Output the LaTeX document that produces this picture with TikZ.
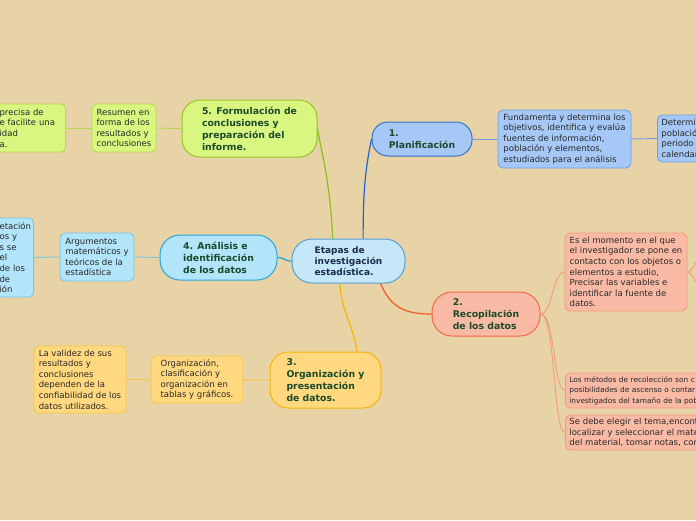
\documentclass[tikz,border=0pt]{standalone}
\usepackage{fontspec}
\setmainfont{DejaVu Sans}
\definecolor{fondo}{RGB}{232,211,166}
\definecolor{etapaF}{RGB}{198,231,248}
\definecolor{etapaB}{RGB}{86,158,214}
\definecolor{planF}{RGB}{166,200,246}
\definecolor{planB}{RGB}{60,110,205}
\definecolor{planL}{RGB}{112,156,226}
\definecolor{salmF}{RGB}{249,186,165}
\definecolor{salmB}{RGB}{240,105,70}
\definecolor{salmL}{RGB}{242,154,122}
\definecolor{amarF}{RGB}{255,216,128}
\definecolor{amarB}{RGB}{245,182,10}
\definecolor{amarL}{RGB}{245,198,74}
\definecolor{celF}{RGB}{178,228,250}
\definecolor{celB}{RGB}{40,165,222}
\definecolor{celL}{RGB}{120,196,226}
\definecolor{verdeF}{RGB}{216,246,128}
\definecolor{verdeB}{RGB}{150,196,40}
\definecolor{verdeL}{RGB}{184,214,78}
\definecolor{ramaAzul}{RGB}{31,99,214}
\definecolor{ramaRoja}{RGB}{240,90,40}
\definecolor{ramaAmar}{RGB}{247,183,0}
\definecolor{ramaCel}{RGB}{30,160,220}
\definecolor{ramaVerde}{RGB}{141,190,30}
\definecolor{titulo}{RGB}{26,74,42}
\definecolor{central}{RGB}{26,42,76}
\definecolor{cuerpo}{RGB}{40,40,40}

\begin{document}
\begin{tikzpicture}[x=1pt, y=-1pt,
  topic/.style={draw, line width=1pt, rounded corners=18pt, align=left, inner xsep=6pt, inner ysep=3pt, font=\fontsize{9.3}{12}\selectfont\bfseries, text=titulo},
  leaf/.style={draw, line width=0.8pt, rounded corners=5pt, align=left, inner xsep=4pt, inner ysep=3pt, font=\fontsize{8.5}{10.6}\selectfont, text=cuerpo},
  link/.style={line width=1.2pt},
  twig/.style={line width=0.9pt}]
  \useasboundingbox (0,0) rectangle (696,520);
  \clip (0,0) rectangle (696,520);
  \fill[fondo] (0,0) rectangle (696,520);

  \node[topic, fill=etapaF, draw=etapaB, text=central, font=\fontsize{9}{11}\selectfont\bfseries, minimum width=113pt, minimum height=44pt, rounded corners=20pt] (etapas) at (348.5,261) {Etapas de\\investigación\\estadística.};
  \node[topic, fill=planF, draw=planB, minimum width=100pt, minimum height=34pt, rounded corners=16pt] (plan) at (422,139) {1.\\Planificación};
  \node[topic, fill=salmF, draw=salmB, minimum width=108pt, minimum height=44pt, rounded corners=20pt] (recop) at (486,314) {2.\\Recopilación\\de los datos};
  \node[topic, fill=amarF, draw=amarB, minimum width=111pt, minimum height=56pt] (organ) at (325.5,380) {3.\\Organización y\\presentación\\de datos.};
  \node[topic, fill=celF, draw=celB, minimum width=117pt, minimum height=45pt, rounded corners=20pt] (anal) at (218.5,257.5) {4. Análisis e\\identificación\\de los datos};
  \node[topic, fill=verdeF, draw=verdeB, minimum width=135pt, minimum height=57pt] (formul) at (249.5,128.5) {5. Formulación de\\conclusiones y\\preparación del\\informe.};

  \node[leaf, fill=planF, draw=planL, minimum width=133pt, minimum height=58pt] (fund) at (564.5,139) {Fundamenta y determina los\\objetivos, identifica y evalúa\\fuentes de información,\\población y elementos,\\estudiados para el análisis};
  \node[leaf, anchor=west, fill=planF, draw=planL, text width=120pt, minimum height=47pt] (determ) at (657,138.5) {Determi\\població\\periodo\\calendar};
  \node[leaf, fill=salmF, draw=salmL, minimum width=122pt, minimum height=78pt] (momento) at (626,272) {Es el momento en el que\\el investigador se pone en\\contacto con los objetos o\\elementos a estudio,\\Precisar las variables e\\identificar la fuente de\\datos.};
  \node[leaf, anchor=west, fill=salmF, draw=salmL, text width=200pt, minimum height=35pt, font=\fontsize{7.4}{10.4}\selectfont] (metodos) at (565,390.5) {Los métodos de recolección son c\\posibilidades de ascenso o contar\\investigados del tamaño de la pob};
  \node[leaf, anchor=west, fill=salmF, draw=salmL, text width=200pt, minimum height=35pt] (tema) at (565,432.5) {Se debe elegir el tema,encont\\localizar y seleccionar el mate\\del material, tomar notas, cor};
  \node[leaf, fill=amarF, draw=amarL, minimum width=92pt, minimum height=47pt] (clasif) at (197,379.5) {Organización,\\clasificación y\\organización en\\tablas y gráficos.};
  \node[leaf, fill=amarF, draw=amarL, minimum width=92pt, minimum height=67pt] (validez) at (80,379.5) {La validez de sus\\resultados y\\conclusiones\\dependen de la\\confiabilidad de los\\datos utilizados.};
  \node[leaf, fill=celF, draw=celL, minimum width=74pt, minimum height=48pt] (argum) at (97,257) {Argumentos\\matemáticos y\\teóricos de la\\estadística};
  \node[leaf, anchor=east, fill=celF, draw=celL, text width=30pt, minimum height=79pt] (interp) at (34,257.5) {etación\\os y\\s se\\el\\de los\\de\\ión};
  \node[leaf, fill=verdeF, draw=verdeL, minimum width=64pt, minimum height=48pt] (resum) at (124,128) {Resumen en\\forma de los\\resultados y\\conclusiones};
  \node[leaf, anchor=east, fill=verdeF, draw=verdeL, text width=62pt, minimum height=48pt] (precisa) at (66,128) {precisa de\\e facilite una\\idad\\a.};

  \coordinate (salidaA) at (702,255);
  \coordinate (salidaB) at (702,289);

  \draw[link, ramaAzul] (etapas.57) .. controls +(0,-50) and +(-6,30) .. (plan.west);
  \draw[link, ramaVerde] (etapas.125) .. controls +(-3,-60) and +(4,25) .. (formul.east);
  \draw[link, ramaCel] (etapas.west) .. controls +(-8,0) and +(8,0) .. (anal.east);
  \draw[link, ramaAmar] (etapas.249) .. controls +(2,30) and +(-5,-30) .. (organ.42);
  \draw[link, ramaRoja] (etapas.-35) .. controls +(10,25) and +(-25,0) .. (recop.west);

  \draw[twig, salmL] (recop.east) .. controls +(12,0) and +(-12,0) .. (momento.west);
  \draw[twig, salmL] (recop.east) .. controls +(15,0) and +(-12,0) .. (metodos.west);
  \draw[twig, salmL] (recop.east) .. controls +(15,0) and +(-12,0) .. (tema.west);
  \draw[twig, salmL] (momento.east) .. controls +(6,0) and +(-4,0) .. (salidaA);
  \draw[twig, salmL] (momento.east) .. controls +(6,0) and +(-4,0) .. (salidaB);

  \draw[twig, planL] (plan.east) -- (fund.west);
  \draw[twig, planL] (fund.east) -- (determ.west);
  \draw[twig, verdeL] (formul.west) -- (resum.east);
  \draw[twig, verdeL] (resum.west) -- (precisa.east);
  \draw[twig, celL] (anal.west) -- (argum.east);
  \draw[twig, celL] (argum.west) -- (interp.east);
  \draw[twig, amarL] (organ.west) -- (clasif.east);
  \draw[twig, amarL] (clasif.west) -- (validez.east);
\end{tikzpicture}
\end{document}
